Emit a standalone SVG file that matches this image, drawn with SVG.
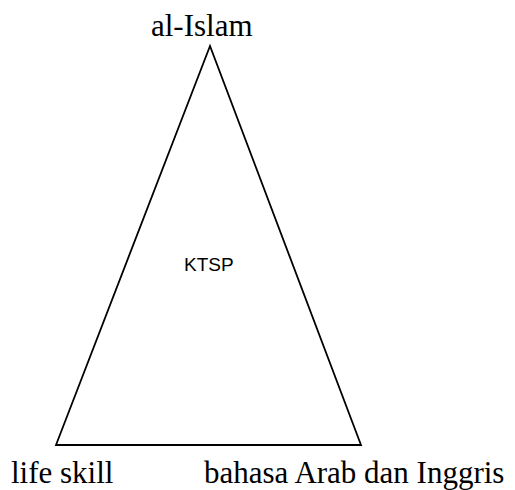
<svg xmlns="http://www.w3.org/2000/svg" width="515" height="490" viewBox="0 0 515 490">
<style>
.lbl{font-family:"Liberation Serif","Times New Roman",serif;font-size:31px;fill:#000}
.in{font-family:"Liberation Sans",Arial,sans-serif;font-size:19px;fill:#000}
.tri{fill:#fff;stroke:#000;stroke-width:1.8;stroke-linejoin:miter}
</style>
<rect width="515" height="490" fill="#fff"/>
<g id="triangle">
<polygon class="tri" points="210,46 56,445 361,445"/>
<text class="in" x="184" y="271">KTSP</text>
</g>
<g id="top"><text class="lbl" x="151" y="36">al-Islam</text></g>
<g id="left"><text class="lbl" x="11" y="483">life skill</text></g>
<g id="right"><text class="lbl" x="204" y="483">bahasa Arab dan Inggris</text></g>
<g id="connectors"></g>
</svg>
